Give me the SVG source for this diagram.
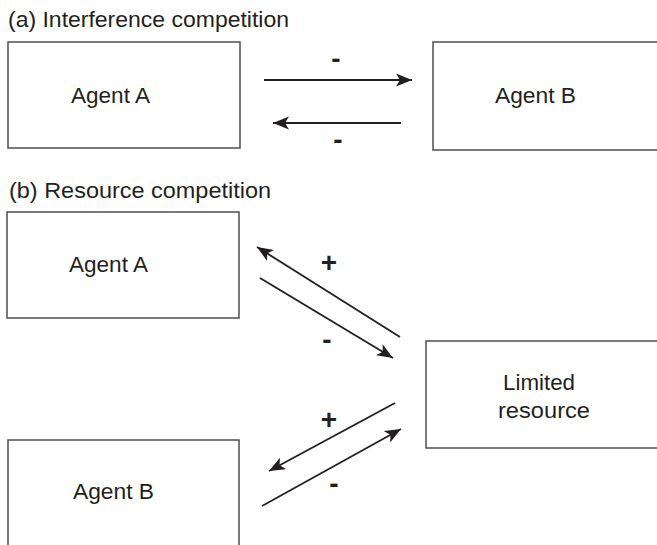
<svg xmlns="http://www.w3.org/2000/svg" width="657" height="545" viewBox="0 0 657 545">
  <style>
    .box { fill: #ffffff; stroke: #4d4d4d; stroke-width: 1.5; }
    .lbl { font-family: "Liberation Sans", Arial, sans-serif; font-size: 22px; fill: #231f20; }
    .sign { font-family: "Liberation Sans", Arial, sans-serif; font-size: 28px; font-weight: bold; fill: #231f20; text-anchor: middle; }
    .conn { stroke: #231f20; stroke-width: 1.8; fill: none; marker-end: url(#arrow); }
  </style>
  <defs>
    <marker id="arrow" markerUnits="userSpaceOnUse" markerWidth="17" markerHeight="14" refX="16" refY="6.5" orient="auto">
      <path d="M0,0 L16,6.5 L0,13 L4,6.5 Z" fill="#231f20"/>
    </marker>
  </defs>
  <rect width="657" height="545" fill="#ffffff"/>

  <text class="lbl" x="8" y="27" textLength="281" lengthAdjust="spacingAndGlyphs">(a) Interference competition</text>
  <text class="lbl" x="9" y="198" textLength="262" lengthAdjust="spacingAndGlyphs">(b) Resource competition</text>

  <g id="a-agentA">
    <rect class="box" x="8" y="42" width="232" height="106"/>
    <text class="lbl" x="71" y="103" textLength="79" lengthAdjust="spacingAndGlyphs">Agent A</text>
  </g>
  <g id="a-agentB">
    <rect class="box" x="433" y="42" width="240" height="108"/>
    <text class="lbl" x="495" y="103" textLength="81" lengthAdjust="spacingAndGlyphs">Agent B</text>
  </g>
  <g id="b-agentA">
    <rect class="box" x="7" y="212" width="232" height="106"/>
    <text class="lbl" x="69" y="272" textLength="79" lengthAdjust="spacingAndGlyphs">Agent A</text>
  </g>
  <g id="b-agentB">
    <rect class="box" x="8" y="440" width="231" height="120"/>
    <text class="lbl" x="73" y="499" textLength="81" lengthAdjust="spacingAndGlyphs">Agent B</text>
  </g>
  <g id="b-resource">
    <rect class="box" x="426" y="341" width="240" height="107"/>
    <text class="lbl" x="503" y="390" textLength="72" lengthAdjust="spacingAndGlyphs">Limited</text>
    <text class="lbl" x="498" y="418" textLength="92" lengthAdjust="spacingAndGlyphs">resource</text>
  </g>

  <g id="connectors">
    <line class="conn" x1="264" y1="80" x2="412" y2="80"/>
    <line class="conn" x1="401" y1="123" x2="273" y2="123"/>
    <line class="conn" x1="400" y1="337" x2="257" y2="247"/>
    <line class="conn" x1="260" y1="278" x2="393" y2="358"/>
    <line class="conn" x1="395" y1="403" x2="269" y2="471"/>
    <line class="conn" x1="262" y1="506" x2="401" y2="429"/>
    <text class="sign" x="336" y="68">-</text>
    <text class="sign" x="338" y="149">-</text>
    <text class="sign" x="329" y="272">+</text>
    <text class="sign" x="327" y="349">-</text>
    <text class="sign" x="329" y="429">+</text>
    <text class="sign" x="334" y="493">-</text>
  </g>
</svg>
